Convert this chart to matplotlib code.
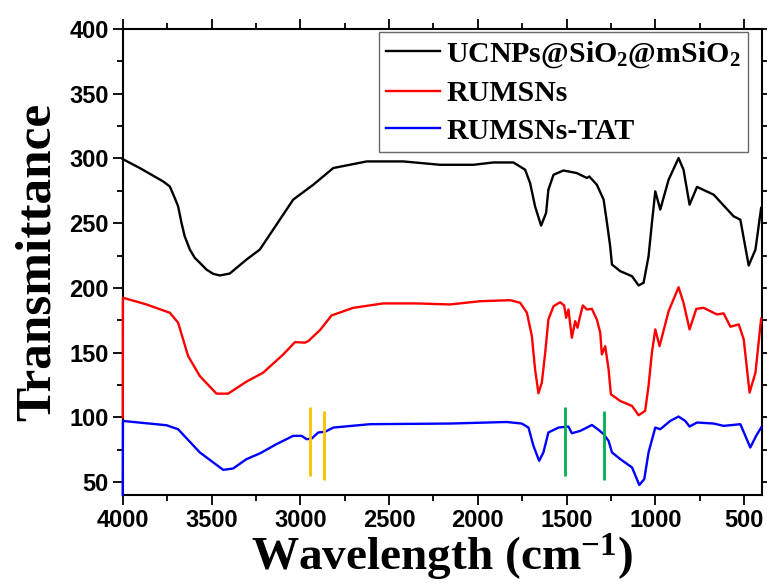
import numpy as np
import matplotlib
matplotlib.use('Agg')
import matplotlib.pyplot as plt
from matplotlib.ticker import MultipleLocator

plt.rcParams['mathtext.default'] = 'regular'

# FTIR spectra (wavenumber, transmittance)
wn_black = [4000, 3904, 3773, 3735, 3707, 3688, 3669, 3651, 3622, 3594, 3566, 3528, 3491,
            3453, 3397, 3303, 3228, 3153, 3040, 2927, 2814, 2626, 2420, 2213, 2025, 1913,
            1800, 1734, 1706, 1678, 1644, 1616, 1603, 1574, 1518, 1443, 1386, 1373, 1330,
            1292, 1273, 1255, 1245, 1198, 1132, 1095, 1067, 1039, 1020, 1001, 973, 926, 870,
            842, 808, 766, 672, 560, 522, 475, 437, 405]
t_black = [299.5, 292.6, 282.3, 278.4, 269.5, 263.0, 250.2, 239.9, 229.6, 223.2, 219.4,
           214.1, 210.9, 209.6, 211.1, 221.9, 229.6, 245.0, 268.2, 279.7, 292.6, 297.7,
           297.7, 295.1, 295.1, 296.9, 296.9, 291.3, 281.0, 263.0, 248.1, 257.9, 275.9,
           287.4, 290.7, 288.7, 284.9, 286.1, 279.7, 268.2, 250.2, 232.2, 218.0, 212.9,
           209.0, 201.9, 203.9, 224.4, 250.2, 274.6, 260.5, 283.6, 300.3, 291.3, 264.3,
           278.0, 272.0, 255.3, 252.7, 217.3, 229.6, 261.8]

wn_red = [4000, 3999, 3866, 3735, 3688, 3632, 3566, 3472, 3406, 3303, 3209, 3096, 3030,
          2974, 2955, 2889, 2824, 2702, 2533, 2345, 2157, 1988, 1818, 1762, 1724, 1696,
          1678, 1659, 1640, 1621, 1603, 1574, 1537, 1514, 1503, 1490, 1471, 1452, 1439,
          1424, 1409, 1386, 1358, 1330, 1311, 1302, 1283, 1264, 1251, 1198, 1132, 1095,
          1058, 1039, 1020, 1001, 977, 926, 870, 842, 808, 770, 729, 654, 616, 578, 531,
          503, 470, 437, 405]
t_red = [100, 192.4, 187.2, 180.8, 173.1, 147.4, 131.9, 118.3, 118.3, 127.6, 134.5, 148.6,
         158.1, 157.7, 158.9, 167.4, 178.7, 184.6, 188.0, 188.0, 187.2, 189.7, 190.5, 188.5,
         180.8, 162.8, 137.1, 118.6, 126.8, 149.8, 175.6, 185.9, 188.9, 186.4, 176.9, 183.3,
         161.5, 174.3, 169.2, 178.3, 186.4, 183.3, 183.8, 175.6, 165.4, 148.6, 155.0, 137.1,
         117.8, 112.6, 108.8, 101.6, 105.0, 124.2, 150.0, 167.9, 155.0, 182.0, 200.5, 188.5,
         167.9, 183.8, 184.6, 179.5, 180.3, 170.0, 171.8, 160.2, 119.1, 134.5, 176.2]

wn_blue = [4000, 3999, 3754, 3688, 3566, 3434, 3378, 3303, 3228, 3134, 3040, 2993, 2964,
           2936, 2899, 2861, 2814, 2608, 2157, 1837, 1753, 1715, 1687, 1655, 1631, 1603,
           1546, 1490, 1471, 1424, 1386, 1358, 1320, 1292, 1264, 1245, 1198, 1132, 1091,
           1063, 1039, 1001, 973, 917, 870, 832, 808, 766, 672, 616, 522, 466, 433, 405]
t_blue = [40, 97.2, 93.9, 90.8, 72.9, 59.4, 60.5, 67.7, 72.1, 79.3, 85.7, 85.7, 83.1, 83.6,
          88.3, 88.8, 92.1, 94.7, 95.2, 96.4, 95.2, 92.1, 77.9, 66.4, 72.9, 88.3, 92.1, 92.9,
          87.7, 89.5, 92.1, 94.1, 90.3, 87.0, 81.8, 72.9, 67.7, 61.3, 47.7, 52.3, 72.9,
          92.1, 90.8, 97.2, 100.6, 97.2, 92.9, 96.0, 95.2, 93.4, 94.7, 76.7, 85.7, 92.1]

labels = [r'UCNPs@SiO$_2$@mSiO$_2$', 'RUMSNs', 'RUMSNs-TAT']

# marker lines (wavenumber, bottom, top)
orange_marks = [(2946, 54.4, 108.3), (2865, 51.5, 105.0)]
green_marks = [(1512, 54.4, 108.3), (1292, 51.5, 105.0)]

fig = plt.figure(figsize=(7.67, 5.86), dpi=100)
ax = fig.add_axes([0.160, 0.1553, 0.8335, 0.7952])

ax.plot(wn_black, t_black, color='black', lw=1.7, label=labels[0], zorder=3, clip_on=False)
ax.plot(wn_red, t_red, color='red', lw=1.7, label=labels[1], zorder=3, clip_on=False)
ax.plot(wn_blue, t_blue, color='blue', lw=1.7, label=labels[2], zorder=3, clip_on=False)

for w, lo, hi in orange_marks:
    ax.vlines(w, lo, hi, color='#FFC000', lw=2, zorder=4)
for w, lo, hi in green_marks:
    ax.vlines(w, lo, hi, color='#00B050', lw=2, zorder=4)

ax.set_xlim(4000, 400)
ax.set_ylim(40, 400)
ax.xaxis.set_major_locator(MultipleLocator(500))
ax.xaxis.set_minor_locator(MultipleLocator(250))
ax.yaxis.set_minor_locator(MultipleLocator(25))
ax.set_yticks(np.arange(50, 401, 50))

ax.tick_params(which='both', direction='out', top=True, right=True, width=1.3)
ax.tick_params(which='major', length=7, labelsize=17, pad=3)
ax.tick_params(which='minor', length=4)
for lab in ax.get_xticklabels() + ax.get_yticklabels():
    lab.set_fontfamily('Liberation Sans')
    lab.set_fontweight('bold')
for sp in ax.spines.values():
    sp.set_linewidth(1.5)

ax.set_xlabel(r'Wavelength (cm$^{-1}$)', fontfamily='Liberation Serif',
              fontweight='bold', fontsize=34, labelpad=0)
ax.set_ylabel('Transmittance', fontfamily='Liberation Serif',
              fontweight='bold', fontsize=37, labelpad=6)

leg = ax.legend(loc='upper right', bbox_to_anchor=(0.978, 0.994),
                prop={'family': 'Liberation Serif', 'weight': 'bold', 'size': 21.5},
                frameon=True, fancybox=False, edgecolor='#444444', handlelength=1.8,
                handletextpad=0.2, labelspacing=0.35, borderpad=0.25, borderaxespad=0)
leg.get_frame().set_linewidth(1)

fig.savefig('out.png', dpi=100)
